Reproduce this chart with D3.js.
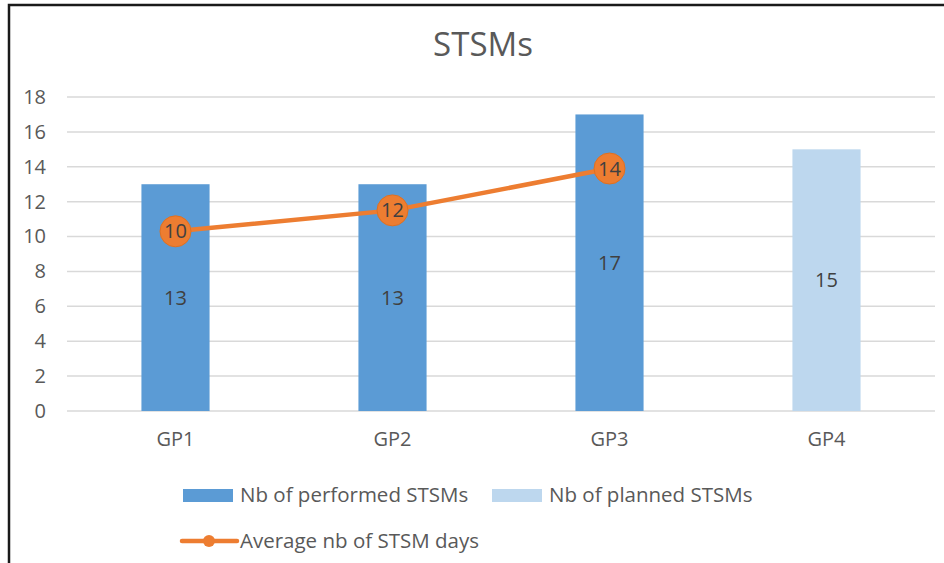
<!DOCTYPE html>
<html lang="en">
<head>
<meta charset="UTF-8">
<title>STSMs</title>
<script src="https://d3js.org/d3.v7.min.js"></script>
<style>
  body { margin: 0; background: #fff; }
  svg text { font-family: "Open Sans", "DejaVu Sans", sans-serif; }
</style>
</head>
<body>
<div id="chart"></div>
<script>
// chart data
var categories = ["GP1", "GP2", "GP3", "GP4"];
var performed = [13, 13, 17, null];
var planned = [null, null, null, 15];
var avgDays = [10.3, 11.5, 13.9];
var yTicks = [0, 2, 4, 6, 8, 10, 12, 14, 16, 18];
var seriesNames = ["Nb of performed STSMs", "Nb of planned STSMs", "Average nb of STSM days"];

var width = 944, height = 563;
var margin = {top: 97, right: 9, bottom: 152, left: 67};

var svg = d3.select("#chart")
  .append("svg")
    .attr("width", width)
    .attr("height", height);

// frame (only top and left edges are visible in the shot)
svg.append("rect")
  .attr("x", 9).attr("y", 5)
  .attr("width", 1000).attr("height", 1000)
  .attr("fill", "none")
  .attr("stroke", "#1a1a1a")
  .attr("stroke-width", 2.5);

// title
svg.append("text")
  .attr("x", 483).attr("y", 56)
  .attr("text-anchor", "middle")
  .attr("font-size", 33)
  .attr("fill", "#595959")
  .text("STSMs");

var x = d3.scaleBand()
  .domain(categories)
  .range([margin.left, width - margin.right])
  .paddingInner(0.686)
  .paddingOuter(0.343);

var y = d3.scaleLinear()
  .domain([0, 18])
  .range([height - margin.bottom, margin.top]);

// gridlines
svg.append("g")
  .selectAll("line")
  .data(yTicks)
  .enter()
  .append("line")
    .attr("x1", margin.left)
    .attr("x2", width - margin.right)
    .attr("y1", function(d) { return y(d); })
    .attr("y2", function(d) { return y(d); })
    .attr("stroke", "#d9d9d9")
    .attr("stroke-width", 1.5);

// y axis labels
var yAxis = d3.axisLeft(y).tickValues(yTicks).tickSize(0).tickPadding(0);
var yg = svg.append("g")
  .attr("transform", "translate(46,0)")
  .call(yAxis);
yg.select(".domain").remove();
yg.selectAll("text")
  .attr("font-size", 20)
  .attr("fill", "#595959")
  .style("font-family", "'Open Sans', sans-serif");

// x axis labels
var xAxis = d3.axisBottom(x).tickSize(0).tickPadding(0);
var xg = svg.append("g")
  .attr("transform", "translate(0," + (y(0) + 21) + ")")
  .call(xAxis);
xg.select(".domain").remove();
xg.selectAll("text")
  .attr("font-size", 20)
  .attr("fill", "#595959")
  .style("font-family", "'Open Sans', sans-serif");

// bars
function drawBars(values, color) {
  var data = categories.map(function(c, i) { return {cat: c, v: values[i]}; })
    .filter(function(d) { return d.v != null; });
  svg.append("g")
    .selectAll("rect")
    .data(data)
    .enter()
    .append("rect")
      .attr("x", function(d) { return x(d.cat); })
      .attr("y", function(d) { return y(d.v); })
      .attr("width", x.bandwidth())
      .attr("height", function(d) { return y(0) - y(d.v); })
      .attr("fill", color);
  svg.append("g")
    .selectAll("text")
    .data(data)
    .enter()
    .append("text")
      .attr("x", function(d) { return x(d.cat) + x.bandwidth() / 2; })
      .attr("y", function(d) { return (y(d.v) + y(0)) / 2; })
      .attr("dy", "0.35em")
      .attr("text-anchor", "middle")
      .attr("font-size", 20)
      .attr("fill", "#404040")
      .text(function(d) { return d.v; });
}
drawBars(performed, "#5b9bd5");
drawBars(planned, "#bdd7ee");

// average line
var avgData = avgDays.map(function(v, i) { return {cat: categories[i], v: v}; });
var cx = function(d) { return x(d.cat) + x.bandwidth() / 2; };

svg.append("path")
  .datum(avgData)
  .attr("fill", "none")
  .attr("stroke", "#ed7d31")
  .attr("stroke-width", 4.5)
  .attr("stroke-linecap", "round")
  .attr("d", d3.line().x(cx).y(function(d) { return y(d.v); }));

svg.append("g")
  .selectAll("circle")
  .data(avgData)
  .enter()
  .append("circle")
    .attr("cx", cx)
    .attr("cy", function(d) { return y(d.v); })
    .attr("r", 15.5)
    .attr("fill", "#ed7d31")
    .attr("stroke", "#e07020")
    .attr("stroke-width", 1);

svg.append("g")
  .selectAll("text")
  .data(avgData)
  .enter()
  .append("text")
    .attr("x", cx)
    .attr("y", function(d) { return y(d.v); })
    .attr("dy", "0.35em")
    .attr("text-anchor", "middle")
    .attr("font-size", 20)
    .attr("fill", "#404040")
    .text(function(d) { return Math.round(d.v); });

// legend
var legend = svg.append("g");
legend.append("rect")
  .attr("x", 183).attr("y", 489).attr("width", 50).attr("height", 13)
  .attr("fill", "#5b9bd5");
legend.append("text")
  .attr("x", 240).attr("y", 495).attr("dy", "0.35em")
  .attr("font-size", 20.5).attr("fill", "#595959")
  .text(seriesNames[0]);
legend.append("rect")
  .attr("x", 492).attr("y", 489).attr("width", 50).attr("height", 13)
  .attr("fill", "#bdd7ee");
legend.append("text")
  .attr("x", 549).attr("y", 495).attr("dy", "0.35em")
  .attr("font-size", 20.5).attr("fill", "#595959")
  .text(seriesNames[1]);
legend.append("line")
  .attr("x1", 182).attr("x2", 237).attr("y1", 541).attr("y2", 541)
  .attr("stroke", "#ed7d31").attr("stroke-width", 4.5)
  .attr("stroke-linecap", "round");
legend.append("circle")
  .attr("cx", 209).attr("cy", 541).attr("r", 6)
  .attr("fill", "#ed7d31");
legend.append("text")
  .attr("x", 240).attr("y", 541).attr("dy", "0.35em")
  .attr("font-size", 20.5).attr("fill", "#595959")
  .text(seriesNames[2]);
</script>
</body>
</html>
